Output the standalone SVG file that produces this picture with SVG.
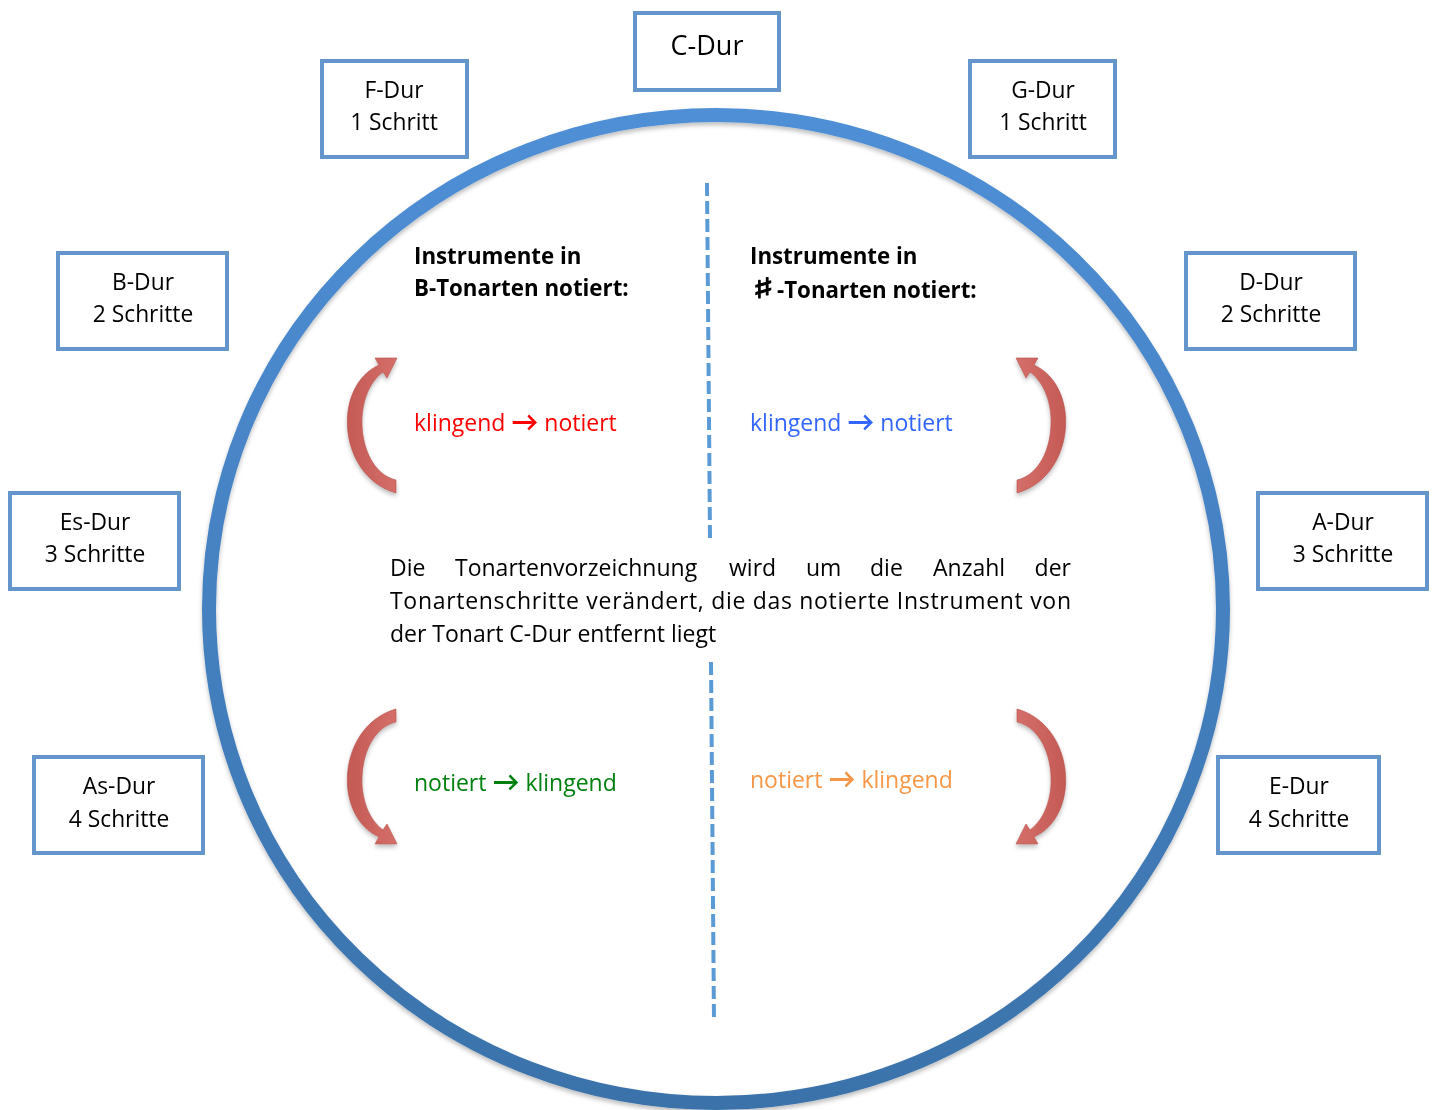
<svg xmlns="http://www.w3.org/2000/svg" width="1432" height="1110" viewBox="0 0 1432 1110">
<style>
text{font-family:"Open Sans",Lato,"Liberation Sans",sans-serif;fill:#000}
.box rect{fill:#fff;stroke:#6496cc;stroke-width:4}
.box text{font-size:22.8px;text-anchor:middle}
.head{font-size:22.3px;font-weight:bold}
.body{font-size:23px}
.ar{font-weight:bold;font-size:27px}
.dash{stroke:#5b9bd5;stroke-width:4;stroke-dasharray:13 5;fill:none}
.arr{fill:url(#ag);stroke:#b5504b;stroke-width:0.6}
</style>
<defs>
<linearGradient id="cg" x1="0" y1="0" x2="0" y2="1">
<stop offset="0" stop-color="#4f8fd6"/>
<stop offset="1" stop-color="#3a72aa"/>
</linearGradient>
<linearGradient id="ag" x1="0" y1="0" x2="1" y2="0">
<stop offset="0" stop-color="#c45a55"/>
<stop offset="1" stop-color="#d56f69"/>
</linearGradient>
<filter id="sh" x="-10%" y="-10%" width="120%" height="120%">
<feDropShadow dx="0" dy="3" stdDeviation="2" flood-color="#000" flood-opacity="0.25"/>
</filter>
<path id="carrow" d="M396,480 C357,471 350,396 383,372 L387,378 L397,358 L375,358 L379,365 C332,386 337,476 396,493 Z"/>
</defs>
<g id="ring">
<ellipse cx="716" cy="609" rx="507" ry="494" fill="none" stroke="url(#cg)" stroke-width="14" filter="url(#sh)"/>
</g>
<g id="connectors">
<line class="dash" x1="707" y1="183" x2="710" y2="538"/>
<line class="dash" x1="711" y1="662" x2="714" y2="1022"/>
<g filter="url(#sh)">
<use href="#carrow" class="arr"/>
<use href="#carrow" class="arr" transform="translate(1413,0) scale(-1,1)"/>
<use href="#carrow" class="arr" transform="translate(0,1202) scale(1,-1)"/>
<use href="#carrow" class="arr" transform="translate(1413,1202) scale(-1,-1)"/>
</g>
</g>
<g id="n-cdur" class="box"><rect x="635" y="13" width="144" height="77"/><text x="707" y="55" style="font-size:27px">C-Dur</text></g>
<g id="n-fdur" class="box"><rect x="322" y="61" width="145" height="96"/><text x="394" y="98">F-Dur</text><text x="394" y="130">1 Schritt</text></g>
<g id="n-gdur" class="box"><rect x="970" y="61" width="145" height="96"/><text x="1043" y="98">G-Dur</text><text x="1043" y="130">1 Schritt</text></g>
<g id="n-bdur" class="box"><rect x="58" y="253" width="169" height="96"/><text x="143" y="290">B-Dur</text><text x="143" y="322">2 Schritte</text></g>
<g id="n-ddur" class="box"><rect x="1186" y="253" width="169" height="96"/><text x="1271" y="290">D-Dur</text><text x="1271" y="322">2 Schritte</text></g>
<g id="n-esdur" class="box"><rect x="10" y="493" width="169" height="96"/><text x="95" y="530">Es-Dur</text><text x="95" y="562">3 Schritte</text></g>
<g id="n-adur" class="box"><rect x="1258" y="493" width="169" height="96"/><text x="1343" y="530">A-Dur</text><text x="1343" y="562">3 Schritte</text></g>
<g id="n-asdur" class="box"><rect x="34" y="757" width="169" height="96"/><text x="119" y="794">As-Dur</text><text x="119" y="827">4 Schritte</text></g>
<g id="n-edur" class="box"><rect x="1218" y="757" width="161" height="96"/><text x="1299" y="794">E-Dur</text><text x="1299" y="827">4 Schritte</text></g>
<g id="labels">
<text class="head" x="414" y="264">Instrumente in</text>
<text class="head" x="414" y="296">B-Tonarten notiert:</text>
<text class="head" x="750" y="264">Instrumente in</text>
<text transform="translate(763,298) scale(1.6,1)" text-anchor="middle" style="font-family:'DejaVu Sans',sans-serif;font-size:28px;stroke:#000;stroke-width:1">♯</text>
<text class="head" x="777" y="298">-Tonarten notiert:</text>
<text class="body" x="414" y="431" style="fill:#ff0000">klingend <tspan class="ar">→</tspan> notiert</text>
<text class="body" x="750" y="431" style="fill:#3366ff">klingend <tspan class="ar">→</tspan> notiert</text>
<text class="body" x="414" y="791" style="fill:#00800f">notiert <tspan class="ar">→</tspan> klingend</text>
<text class="body" x="750" y="788" style="fill:#f79646">notiert <tspan class="ar">→</tspan> klingend</text>
<text class="body" y="576"><tspan x="390">Die</tspan><tspan x="455">Tonartenvorzeichnung</tspan><tspan x="729">wird</tspan><tspan x="806">um</tspan><tspan x="870">die</tspan><tspan x="933">Anzahl</tspan><tspan x="1071" text-anchor="end">der</tspan></text>
<text class="body" x="390" y="609" textLength="681" lengthAdjust="spacing">Tonartenschritte verändert, die das notierte Instrument von</text>
<text class="body" x="390" y="642">der Tonart C-Dur entfernt liegt</text>
</g>
</svg>
